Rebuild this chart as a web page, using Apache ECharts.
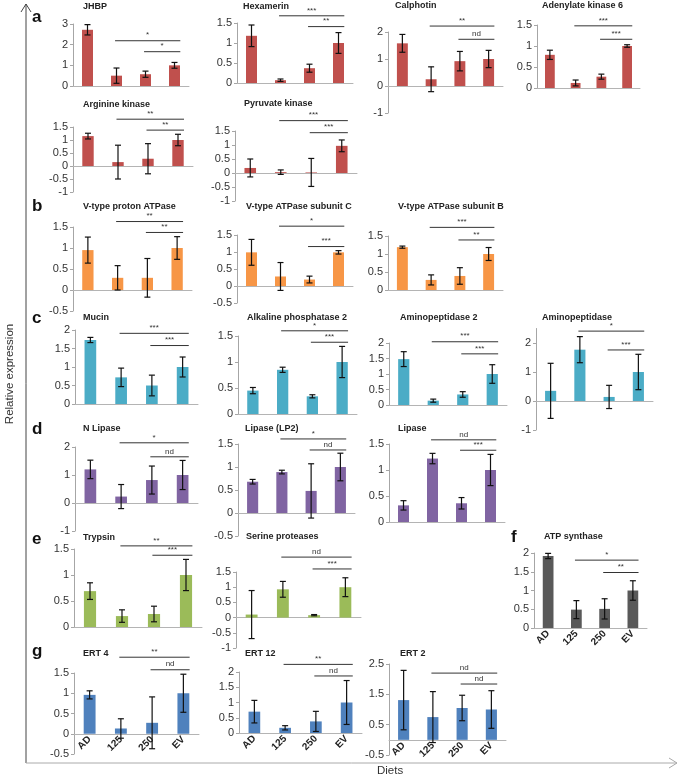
<!DOCTYPE html>
<html><head><meta charset="utf-8">
<script src="https://cdn.jsdelivr.net/npm/echarts@6/dist/echarts.min.js"></script>
<style>html,body{margin:0;padding:0;background:#fff}#c{width:685px;height:779px}</style>
</head><body><div id="c"></div>
<script>
const categories = ['AD', '125', '250', 'EV'];

// a
const jhbpValues = [2.72, 0.5, 0.57, 1.0];
const jhbpErrors = [0.25, 0.37, 0.15, 0.14];
const jhbpSig = [[1, 3, 2.19, '*'], [2, 3, 1.66, '*']];
const jhbpTicks = [0, 1, 2, 3];

const hexamerinValues = [1.18, 0.07, 0.37, 1.0];
const hexamerinErrors = [0.27, 0.03, 0.1, 0.26];
const hexamerinSig = [[1, 3, 1.68, '***'], [2, 3, 1.41, '**']];
const hexamerinTicks = [0, 0.5, 1, 1.5];

const calphotinValues = [1.58, 0.25, 0.92, 1.0];
const calphotinErrors = [0.33, 0.46, 0.36, 0.32];
const calphotinSig = [[1, 3, 2.22, '**'], [2, 3, 1.73, 'nd']];
const calphotinTicks = [-1, 0, 1, 2];

const adkValues = [0.79, 0.12, 0.27, 1.0];
const adkErrors = [0.11, 0.07, 0.06, 0.03];
const adkSig = [[1, 3, 1.48, '***'], [2, 3, 1.16, '***']];
const adkTicks = [0, 0.5, 1, 1.5];

const argValues = [1.15, 0.15, 0.28, 1.0];
const argErrors = [0.11, 0.65, 0.58, 0.22];
const argSig = [[1, 3, 1.8, '**'], [2, 3, 1.38, '**']];
const argTicks = [-1, -0.5, 0, 0.5, 1, 1.5];

const pyrValues = [0.18, 0.03, 0.02, 0.97];
const pyrErrors = [0.32, 0.08, 0.5, 0.21];
const pyrSig = [[1, 3, 1.87, '***'], [2, 3, 1.44, '***']];
const pyrTicks = [-1, -0.5, 0, 0.5, 1, 1.5];

// b
const vprotValues = [0.95, 0.29, 0.29, 1.0];
const vprotErrors = [0.31, 0.29, 0.46, 0.27];
const vprotSig = [[1, 3, 1.63, '**'], [2, 3, 1.37, '**']];
const vprotTicks = [-0.5, 0, 0.5, 1, 1.5];

const vsubCValues = [0.99, 0.28, 0.19, 0.99];
const vsubCErrors = [0.38, 0.41, 0.1, 0.05];
const vsubCSig = [[1, 3, 1.76, '*'], [2, 3, 1.16, '***']];
const vsubCTicks = [-0.5, 0, 0.5, 1, 1.5];

const vsubBValues = [1.19, 0.28, 0.39, 1.0];
const vsubBErrors = [0.03, 0.14, 0.23, 0.18];
const vsubBSig = [[1, 3, 1.74, '***'], [2, 3, 1.39, '**']];
const vsubBTicks = [0, 0.5, 1, 1.5];

// c
const mucinValues = [1.73, 0.72, 0.5, 1.0];
const mucinErrors = [0.07, 0.25, 0.28, 0.27];
const mucinSig = [[1, 3, 1.91, '***'], [2, 3, 1.58, '***']];
const mucinTicks = [0, 0.5, 1, 1.5, 2];

const alkValues = [0.45, 0.85, 0.34, 1.0];
const alkErrors = [0.06, 0.05, 0.03, 0.3];
const alkSig = [[1, 3, 1.6, '*'], [2, 3, 1.38, '***']];
const alkTicks = [0, 0.5, 1, 1.5];

const amino2Values = [1.48, 0.14, 0.34, 1.0];
const amino2Errors = [0.24, 0.05, 0.09, 0.3];
const amino2Sig = [[1, 3, 2.04, '***'], [2, 3, 1.65, '***']];
const amino2Ticks = [0, 0.5, 1, 1.5, 2];

const aminoValues = [0.35, 1.77, 0.14, 1.0];
const aminoErrors = [0.95, 0.45, 0.4, 0.61];
const aminoSig = [[1, 3, 2.41, '*'], [2, 3, 1.76, '***']];
const aminoTicks = [-1, 0, 1, 2];

// d
const nlipValues = [1.2, 0.23, 0.82, 1.0];
const nlipErrors = [0.33, 0.43, 0.5, 0.52];
const nlipSig = [[1, 3, 2.15, '*'], [2, 3, 1.65, 'nd']];
const nlipTicks = [-1, 0, 1, 2];

const lp2Values = [0.68, 0.89, 0.48, 1.0];
const lp2Errors = [0.05, 0.04, 0.59, 0.3];
const lp2Sig = [[1, 3, 1.61, '*'], [2, 3, 1.37, 'nd']];
const lp2Ticks = [-0.5, 0, 0.5, 1, 1.5];

const lipValues = [0.32, 1.22, 0.36, 1.0];
const lipErrors = [0.09, 0.1, 0.11, 0.3];
const lipSig = [[1, 3, 1.58, 'nd'], [2, 3, 1.38, '***']];
const lipTicks = [0, 0.5, 1, 1.5];

// e
const trypValues = [0.69, 0.21, 0.25, 1.0];
const trypErrors = [0.16, 0.12, 0.15, 0.3];
const trypSig = [[1, 3, 1.56, '**'], [2, 3, 1.38, '***']];
const trypTicks = [0, 0.5, 1, 1.5];

const serValues = [0.1, 0.93, 0.08, 1.0];
const serErrors = [0.79, 0.26, 0.02, 0.31];
const serSig = [[1, 3, 1.99, 'nd'], [2, 3, 1.6, '***']];
const serTicks = [-1, -0.5, 0, 0.5, 1, 1.5];

// f
const atpValues = [1.92, 0.49, 0.51, 1.0];
const atpErrors = [0.07, 0.24, 0.27, 0.26];
const atpSig = [[1, 3, 1.81, '*'], [2, 3, 1.48, '**']];
const atpTicks = [0, 0.5, 1, 1.5, 2];

// g
const ert4Values = [0.96, 0.13, 0.27, 1.0];
const ert4Errors = [0.1, 0.24, 0.64, 0.47];
const ert4Sig = [[1, 3, 1.89, '**'], [2, 3, 1.58, 'nd']];
const ert4Ticks = [-0.5, 0, 0.5, 1, 1.5];

const ert12Values = [0.7, 0.17, 0.38, 1.0];
const ert12Errors = [0.37, 0.07, 0.33, 0.72];
const ert12Sig = [[1, 3, 2.25, '**'], [2, 3, 1.87, 'nd']];
const ert12Ticks = [0, 0.5, 1, 1.5, 2];

const ert2Values = [1.31, 0.75, 1.05, 1.0];
const ert2Errors = [0.98, 0.84, 0.42, 0.62];
const ert2Sig = [[1, 3, 2.2, 'nd'], [2, 3, 1.84, 'nd']];
const ert2Ticks = [-0.5, 0.5, 1.5, 2.5];

// styling
const RED = '#C0504D', ORANGE = '#F79646', TEAL = '#4BACC6', PURPLE = '#8064A2',
      GREEN = '#9BBB59', GRAY = '#595959', BLUE = '#4F81BD';
const F = '"Liberation Sans", Arial, sans-serif';

// layout: box = [left, top(max), right, bottom(min)], r = axis range, tp = title pos
const panels = [
  {name: 'JHBP', v: jhbpValues, e: jhbpErrors, s: jhbpSig, t: jhbpTicks, c: RED, box: [73, 24, 189, 86], r: [0, 3], tp: [83, 2]},
  {name: 'Hexamerin', v: hexamerinValues, e: hexamerinErrors, s: hexamerinSig, t: hexamerinTicks, c: RED, box: [237, 23, 353, 83], r: [0, 1.5], tp: [243, 2]},
  {name: 'Calphotin', v: calphotinValues, e: calphotinErrors, s: calphotinSig, t: calphotinTicks, c: RED, box: [388, 32, 503, 113], r: [-1, 2], tp: [395, 1]},
  {name: 'Adenylate kinase 6', v: adkValues, e: adkErrors, s: adkSig, t: adkTicks, c: RED, box: [537, 25, 640, 88], r: [0, 1.5], tp: [542, 1]},
  {name: 'Arginine kinase', v: argValues, e: argErrors, s: argSig, t: argTicks, c: RED, box: [73, 127, 193, 192], r: [-1, 1.5], tp: [83, 100]},
  {name: 'Pyruvate kinase', v: pyrValues, e: pyrErrors, s: pyrSig, t: pyrTicks, c: RED, box: [235, 131, 357, 201], r: [-1, 1.5], tp: [244, 99]},
  {name: 'V-type proton ATPase', v: vprotValues, e: vprotErrors, s: vprotSig, t: vprotTicks, c: ORANGE, box: [73, 227, 192, 311], r: [-0.5, 1.5], tp: [83, 202]},
  {name: 'V-type ATPase subunit C', v: vsubCValues, e: vsubCErrors, s: vsubCSig, t: vsubCTicks, c: ORANGE, box: [237, 235, 353, 303], r: [-0.5, 1.5], tp: [246, 202]},
  {name: 'V-type ATPase subunit B', v: vsubBValues, e: vsubBErrors, s: vsubBSig, t: vsubBTicks, c: ORANGE, box: [388, 236, 503, 290], r: [0, 1.5], tp: [398, 202]},
  {name: 'Mucin', v: mucinValues, e: mucinErrors, s: mucinSig, t: mucinTicks, c: TEAL, box: [75, 330, 198, 404], r: [0, 2], tp: [83, 313]},
  {name: 'Alkaline phosphatase 2', v: alkValues, e: alkErrors, s: alkSig, t: alkTicks, c: TEAL, box: [238, 336, 357, 414], r: [0, 1.5], tp: [247, 313]},
  {name: 'Aminopeptidase 2', v: amino2Values, e: amino2Errors, s: amino2Sig, t: amino2Ticks, c: TEAL, box: [389, 343, 507, 405], r: [0, 2], tp: [400, 313]},
  {name: 'Aminopeptidase', v: aminoValues, e: aminoErrors, s: aminoSig, t: aminoTicks, c: TEAL, box: [536, 328.5, 653, 430], r: [-1, 2.5], tp: [542, 313]},
  {name: 'N Lipase', v: nlipValues, e: nlipErrors, s: nlipSig, t: nlipTicks, c: PURPLE, box: [75, 447, 198, 531], r: [-1, 2], tp: [83, 424]},
  {name: 'Lipase (LP2)', v: lp2Values, e: lp2Errors, s: lp2Sig, t: lp2Ticks, c: PURPLE, box: [238, 444, 355, 536], r: [-0.5, 1.5], tp: [245, 424]},
  {name: 'Lipase', v: lipValues, e: lipErrors, s: lipSig, t: lipTicks, c: PURPLE, box: [389, 444, 505, 522], r: [0, 1.5], tp: [398, 424]},
  {name: 'Trypsin', v: trypValues, e: trypErrors, s: trypSig, t: trypTicks, c: GREEN, box: [74, 549, 202, 627], r: [0, 1.5], tp: [83, 533]},
  {name: 'Serine proteases', v: serValues, e: serErrors, s: serSig, t: serTicks, c: GREEN, box: [236, 572, 361, 648], r: [-1, 1.5], tp: [246, 532]},
  {name: 'ATP synthase', v: atpValues, e: atpErrors, s: atpSig, t: atpTicks, c: GRAY, box: [534, 553, 647, 628], r: [0, 2], tp: [544, 532], xl: true},
  {name: 'ERT 4', v: ert4Values, e: ert4Errors, s: ert4Sig, t: ert4Ticks, c: BLUE, box: [74, 673, 199, 754], r: [-0.5, 1.5], tp: [83, 649], xl: true},
  {name: 'ERT 12', v: ert12Values, e: ert12Errors, s: ert12Sig, t: ert12Ticks, c: BLUE, box: [239, 672, 362, 733], r: [0, 2], tp: [245, 649], xl: true},
  {name: 'ERT 2', v: ert2Values, e: ert2Errors, s: ert2Sig, t: ert2Ticks, c: BLUE, box: [389, 664, 506, 755], r: [-0.5, 2.5], tp: [400, 649], xl: true}
];

function errRender(params, api) {
  const x = api.value(0);
  const pHi = api.coord([x, api.value(2)]);
  const pLo = api.coord([x, api.value(1)]);
  const cap = 3;
  const st = {stroke: '#111', lineWidth: 1.2};
  return {type: 'group', children: [
    {type: 'line', shape: {x1: pHi[0], y1: pHi[1], x2: pLo[0], y2: pLo[1]}, style: st},
    {type: 'line', shape: {x1: pHi[0] - cap, y1: pHi[1], x2: pHi[0] + cap, y2: pHi[1]}, style: st},
    {type: 'line', shape: {x1: pLo[0] - cap, y1: pLo[1], x2: pLo[0] + cap, y2: pLo[1]}, style: st}
  ]};
}

function sigRender(params, api, sig) {
  const s = sig[params.dataIndex];
  const bw = api.size([1, 0])[0];
  const p1 = api.coord([s[0], s[2]]);
  const p2 = api.coord([s[1], s[2]]);
  const x1 = p1[0] - 0.05 * bw, x2 = p2[0] + 0.2 * bw, y = p1[1];
  return {type: 'group', children: [
    {type: 'line', shape: {x1: x1, y1: y, x2: x2, y2: y}, style: {stroke: '#333', lineWidth: 1}},
    {type: 'text', x: (x1 + x2) / 2, y: y - 1.5, style: {text: s[3], fill: '#333', font: '8px ' + F,
      align: 'center', verticalAlign: 'bottom', textAlign: 'center', textVerticalAlign: 'bottom'}}
  ]};
}

const grid = [], xAxis = [], yAxis = [], series = [], title = [];
panels.forEach((p, i) => {
  const [l, t, r, b] = p.box;
  grid.push({left: l, top: t, width: r - l, height: b - t, containLabel: false, outerBoundsMode: 'none'});
  xAxis.push({type: 'category', gridIndex: i, data: categories,
    axisLine: {onZero: true, lineStyle: {color: '#b4b4b4', width: 1}},
    axisTick: {show: false}, axisLabel: {show: false}, splitLine: {show: false}});
  yAxis.push({type: 'value', gridIndex: i, min: p.r[0], max: p.r[1],
    axisLine: {show: true, lineStyle: {color: '#a6a6a6', width: 1}},
    axisTick: {show: true, length: 3, lineStyle: {color: '#a6a6a6'}, customValues: p.t},
    axisLabel: {fontSize: 11, color: '#333', fontFamily: F, margin: 5, customValues: p.t},
    splitLine: {show: false}});
  series.push({type: 'bar', xAxisIndex: i, yAxisIndex: i, data: p.v, barWidth: '38%',
    itemStyle: {color: p.c}, silent: true, animation: false});
  series.push({type: 'custom', xAxisIndex: i, yAxisIndex: i,
    data: p.v.map((v, k) => [k, v - p.e[k], v + p.e[k]]),
    encode: {x: 0, y: [1, 2]}, renderItem: errRender, z: 5, silent: true, animation: false});
  series.push({type: 'custom', xAxisIndex: i, yAxisIndex: i,
    data: p.s.map(s => [s[0], s[1], s[2]]),
    encode: {x: [0, 1], y: 2}, renderItem: (params, api) => sigRender(params, api, p.s), z: 5, silent: true, animation: false});
  title.push({text: p.name, left: p.tp[0], top: p.tp[1], padding: 0,
    textStyle: {fontSize: 9, fontWeight: 'bold', color: '#222', fontFamily: F}});
});

// category label strips placed at the zero line of the bottom panels
let gi = panels.length;
panels.forEach(p => {
  if (!p.xl) return;
  const [l, t, r, b] = p.box;
  const zero = t + (p.r[1] / (p.r[1] - p.r[0])) * (b - t);
  grid.push({left: l, top: zero - 10, width: r - l, height: 10, containLabel: false, outerBoundsMode: 'none'});
  xAxis.push({type: 'category', gridIndex: gi, data: categories,
    axisLine: {show: false}, axisTick: {show: false}, splitLine: {show: false},
    axisLabel: {show: true, rotate: 45, fontSize: 10, fontWeight: 'bold', color: '#222', fontFamily: F, margin: 4, interval: 0}});
  yAxis.push({type: 'value', gridIndex: gi, min: 0, max: 1, show: false});
  gi++;
});

const letters = [['a', 32, 9], ['b', 32, 198], ['c', 32, 310], ['d', 32, 421], ['e', 32, 531], ['f', 511, 529], ['g', 32, 643]];
letters.forEach(L => title.push({text: L[0], left: L[1], top: L[2], padding: 0,
  textStyle: {fontSize: 17, fontWeight: 'bold', color: '#111', fontFamily: F}}));
title.push({text: 'Diets', left: 377, top: 765, padding: 0, textStyle: {fontSize: 11.5, fontWeight: 'normal', color: '#333', fontFamily: F}});

const graphic = [
  {type: 'line', shape: {x1: 26, y1: 763, x2: 26, y2: 4}, style: {stroke: '#444', lineWidth: 1}},
  {type: 'polyline', shape: {points: [[21, 12], [26, 4], [31, 12]]}, style: {stroke: '#444', lineWidth: 1, fill: null}},
  {type: 'line', shape: {x1: 26, y1: 763, x2: 677, y2: 763}, style: {stroke: '#aaa', lineWidth: 1}},
  {type: 'polyline', shape: {points: [[669, 758], [677, 763], [669, 768]]}, style: {stroke: '#aaa', lineWidth: 1, fill: null}},
  {type: 'text', x: 10, y: 374, rotation: Math.PI / 2, style: {text: 'Relative expression', fill: '#333', font: '11.5px ' + F,
    align: 'center', verticalAlign: 'middle', textAlign: 'center', textVerticalAlign: 'middle'}}
];

const chart = echarts.init(document.getElementById('c'), null, {renderer: 'canvas'});
chart.setOption({animation: false, backgroundColor: '#fff', title, grid, xAxis, yAxis, series, graphic});
</script></body></html>
